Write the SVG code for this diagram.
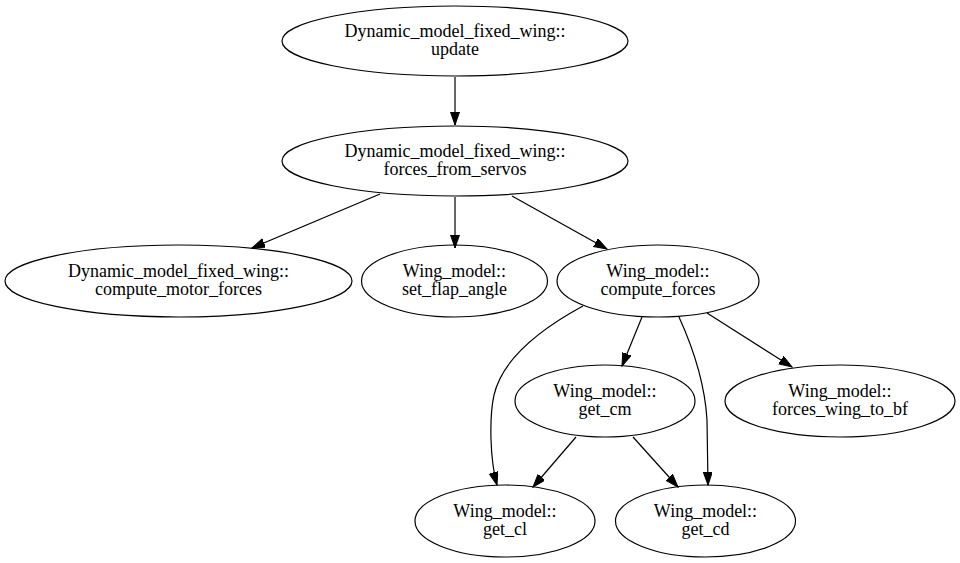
<svg xmlns="http://www.w3.org/2000/svg" width="960" height="563" viewBox="0 0 960 563">
<style>
.node ellipse{fill:none;stroke:#000;stroke-width:1.2}
.node text{font-family:'Liberation Serif','Times New Roman',serif;font-size:18px;text-anchor:middle;fill:#000}
.edge{fill:none;stroke:#000;stroke-width:1.2;marker-end:url(#arr)}
</style>
<defs>
<marker id="arr" markerUnits="userSpaceOnUse" markerWidth="14" markerHeight="10" refX="13" refY="4.5" orient="auto">
<path d="M0,0 L13,4.5 L0,9 Z" fill="#000" stroke="#000" stroke-width="1"/>
</marker>
</defs>
<rect width="960" height="563" fill="#fff"/>
<g id="connectors">
<path class="edge" d="M455,77 L455,125"/>
<path class="edge" d="M380,194 L252,248"/>
<path class="edge" d="M455,197 L455,248"/>
<path class="edge" d="M512,196 L607,249"/>
<path class="edge" d="M583,306 C548,325 503,356 494,395 C489,418 490,460 497,485"/>
<path class="edge" d="M642,317 L622,366"/>
<path class="edge" d="M679,317 C694,350 705,385 707,420 L708,485"/>
<path class="edge" d="M707,313 L792,367"/>
<path class="edge" d="M576,437 L533,487"/>
<path class="edge" d="M633,437 L678,487"/>
</g>
<g id="update" class="node"><ellipse cx="455" cy="41" rx="173" ry="35"/><text x="455" y="36.5">Dynamic_model_fixed_wing::</text><text x="455" y="55">update</text></g>
<g id="forces_from_servos" class="node"><ellipse cx="455" cy="161" rx="173" ry="35"/><text x="455" y="156.5">Dynamic_model_fixed_wing::</text><text x="455" y="175">forces_from_servos</text></g>
<g id="compute_motor_forces" class="node"><ellipse cx="178.5" cy="281" rx="173.5" ry="36"/><text x="178.5" y="276.5">Dynamic_model_fixed_wing::</text><text x="178.5" y="295">compute_motor_forces</text></g>
<g id="set_flap_angle" class="node"><ellipse cx="454.5" cy="281" rx="93" ry="36"/><text x="454.5" y="276.5">Wing_model::</text><text x="454.5" y="295">set_flap_angle</text></g>
<g id="compute_forces" class="node"><ellipse cx="658" cy="281" rx="101" ry="36"/><text x="658" y="276.5">Wing_model::</text><text x="658" y="295">compute_forces</text></g>
<g id="get_cm" class="node"><ellipse cx="605" cy="401" rx="90" ry="36"/><text x="605" y="396.5">Wing_model::</text><text x="605" y="415">get_cm</text></g>
<g id="forces_wing_to_bf" class="node"><ellipse cx="840" cy="401" rx="115" ry="36"/><text x="840" y="396.5">Wing_model::</text><text x="840" y="415">forces_wing_to_bf</text></g>
<g id="get_cl" class="node"><ellipse cx="505" cy="521" rx="90" ry="36"/><text x="505" y="516.5">Wing_model::</text><text x="505" y="535">get_cl</text></g>
<g id="get_cd" class="node"><ellipse cx="705.5" cy="521" rx="90" ry="36"/><text x="705.5" y="516.5">Wing_model::</text><text x="705.5" y="535">get_cd</text></g>
</svg>
